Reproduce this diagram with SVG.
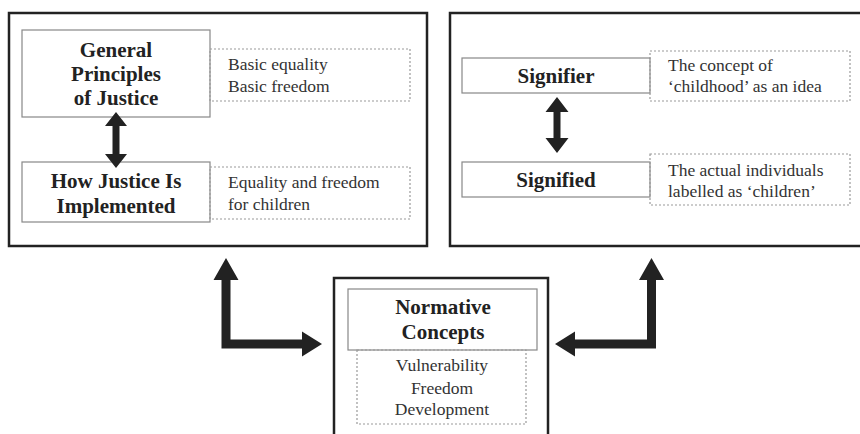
<svg xmlns="http://www.w3.org/2000/svg" width="860" height="434" viewBox="0 0 860 434">
<style>
.outer{fill:none;stroke:#222;stroke-width:2.5}
.box{fill:#fff;stroke:#888;stroke-width:1.2}
.dash{fill:none;stroke:#999;stroke-width:1.2;stroke-dasharray:2 2}
.b{font-family:"Liberation Serif","Times New Roman",serif;font-weight:bold;font-size:21px;fill:#222;text-anchor:middle}
.r{font-family:"Liberation Serif","Times New Roman",serif;font-size:17.5px;fill:#333}
.rc{text-anchor:middle}
.arrow{fill:#222}
</style>
<rect width="860" height="434" fill="#fff"/>
<g id="panel-justice">
<rect class="outer" x="9" y="13" width="418" height="233"/>
</g>
<g id="panel-sign">
<rect class="outer" x="450" y="13" width="420" height="233"/>
</g>
<g id="general-principles">
<rect class="box" x="22" y="30" width="188" height="87"/>
<text class="b" x="116" y="57">General</text>
<text class="b" x="116" y="81">Principles</text>
<text class="b" x="116" y="105">of Justice</text>
</g>
<g id="basic-note">
<rect class="dash" x="210" y="49" width="200" height="52"/>
<text class="r" x="228" y="70">Basic equality</text>
<text class="r" x="228" y="92">Basic freedom</text>
</g>
<g id="how-justice">
<rect class="box" x="22" y="162" width="188" height="60"/>
<text class="b" x="116" y="188">How Justice Is</text>
<text class="b" x="116" y="213">Implemented</text>
</g>
<g id="children-note">
<rect class="dash" x="210" y="167" width="200" height="52"/>
<text class="r" x="228" y="188">Equality and freedom</text>
<text class="r" x="228" y="210">for children</text>
</g>
<g id="signifier">
<rect class="box" x="462" y="58" width="188" height="35"/>
<text class="b" x="556" y="83">Signifier</text>
</g>
<g id="signifier-note">
<rect class="dash" x="650" y="51" width="200" height="50"/>
<text class="r" x="668" y="71">The concept of</text>
<text class="r" x="668" y="92">‘childhood’ as an idea</text>
</g>
<g id="signified">
<rect class="box" x="462" y="162" width="188" height="35"/>
<text class="b" x="556" y="187">Signified</text>
</g>
<g id="signified-note">
<rect class="dash" x="650" y="154" width="200" height="51"/>
<text class="r" x="668" y="176">The actual individuals</text>
<text class="r" x="668" y="197">labelled as ‘children’</text>
</g>
<g id="normative">
<rect class="outer" x="334" y="278" width="214" height="170"/>
<rect class="box" x="348" y="289" width="189" height="61"/>
<text class="b" x="443" y="314">Normative</text>
<text class="b" x="443" y="339">Concepts</text>
<rect class="dash" x="357" y="350" width="169" height="74"/>
<text class="r rc" x="442" y="371">Vulnerability</text>
<text class="r rc" x="442" y="394">Freedom</text>
<text class="r rc" x="442" y="415">Development</text>
</g>
<g id="connectors">
<polygon class="arrow" points="116,112 127,126 119.5,126 119.5,154 127,154 116,168 105,154 112.5,154 112.5,126 105,126"/>
<polygon class="arrow" points="557,97 568.5,112 560.5,112 560.5,138 568.5,138 557,153 545.5,138 553.5,138 553.5,112 545.5,112"/>
<polygon class="arrow" points="226,258 238.5,280 230.5,280 230.5,339.5 302,339.5 302,331.5 322,344 302,356.5 302,348.5 221.5,348.5 221.5,280 213.5,280"/>
<polygon class="arrow" points="651.5,258 664,280 656,280 656,348.5 575,348.5 575,356.5 555,344 575,331.5 575,339.5 647,339.5 647,280 639,280"/>
</g>
</svg>
